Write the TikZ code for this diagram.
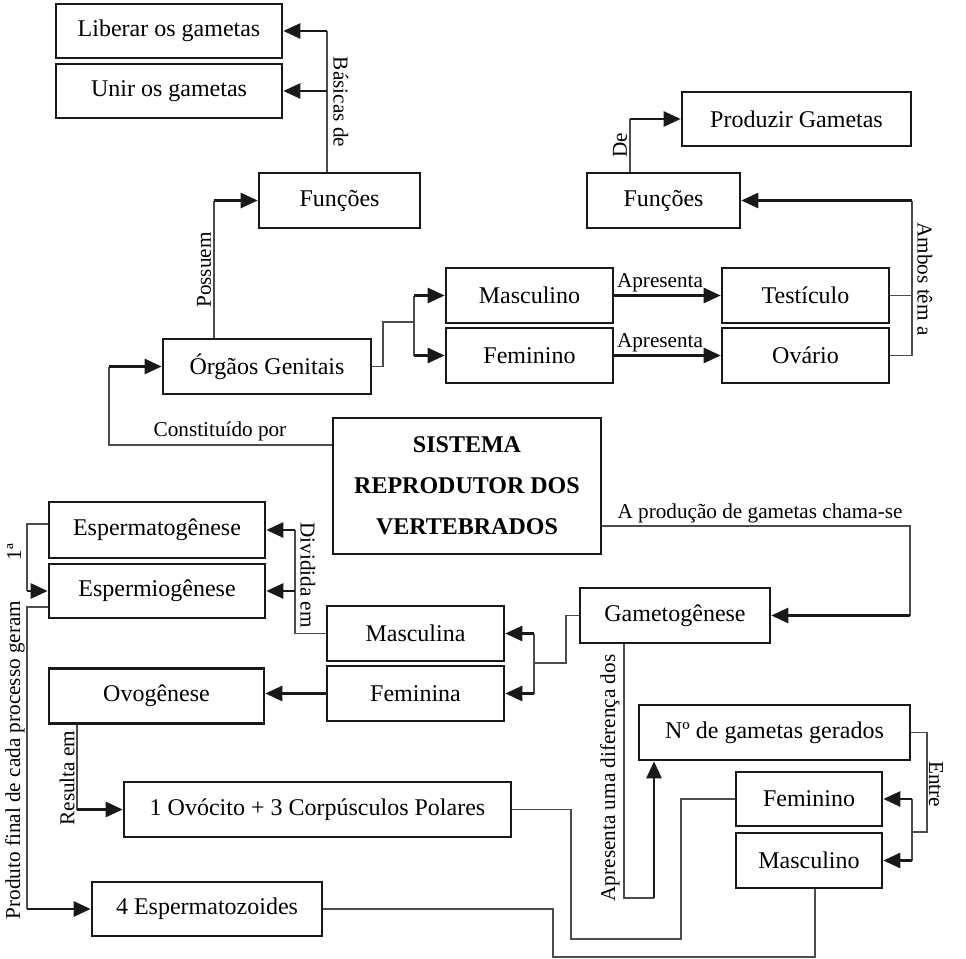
\documentclass[tikz,border=0pt]{standalone}
\usepackage{fontspec}
\setmainfont{Liberation Serif}
\usetikzlibrary{arrows.meta}

\tikzset{
  caixa/.style={draw=black!90, line width=1.3pt, inner sep=0pt, align=center, font=\fontsize{12}{14}\selectfont},
  dim/.style 2 args={minimum width=#1pt, minimum height=#2pt},
  liga/.style={draw=black!70, line width=0.6pt},
  seta/.style={draw=black!90, line width=1.3pt, -{Triangle[length=8.5pt,width=7.5pt]}},
  rotulo/.style={inner sep=0pt, font=\fontsize{10.6}{12}\selectfont},
}

\begin{document}
\begin{tikzpicture}[x=0.5pt,y=-0.5pt]
\useasboundingbox (0,0) rectangle (966,959);

\node[caixa, dim={113}{27}] (liberar) at (169,31) {Liberar os gametas};
\node[caixa, dim={113}{27}] (unir) at (169,91) {Unir os gametas};
\node[caixa, dim={80.5}{27.5}] (funcA) at (339.5,200.5) {Funções};
\node[caixa, dim={114.5}{27}] (produzir) at (796.5,119) {Produzir Gametas};
\node[caixa, dim={76.5}{27.5}] (funcB) at (663.5,200.5) {Funções};
\node[caixa, dim={83.5}{27.5}] (mascA) at (529.5,295.5) {Masculino};
\node[caixa, dim={83.5}{27.5}] (femA) at (529.5,355.5) {Feminino};
\node[caixa, dim={83.5}{27.5}] (testiculo) at (805.5,295.5) {Testículo};
\node[caixa, dim={83.5}{27.5}] (ovario) at (805.5,355.5) {Ovário};
\node[caixa, dim={104}{27.5}] (orgaos) at (267,366.5) {Órgãos Genitais};
\node[caixa, dim={134}{68}, font=\fontsize{12}{20.5}\selectfont\bfseries] (sistema) at (467,486) {SISTEMA\\REPRODUTOR DOS\\VERTEBRADOS};
\node[caixa, dim={108}{28}] (espermato) at (157,530) {Espermatogênese};
\node[caixa, dim={108}{27}] (espermio) at (157,591) {Espermiogênese};
\node[caixa, dim={88.5}{27.5}] (masculina) at (415.5,633.5) {Masculina};
\node[caixa, dim={88.5}{27.5}] (feminina) at (415.5,693.5) {Feminina};
\node[caixa, dim={95}{27.5}] (gameto) at (675,615.5) {Gametogênese};
\node[caixa, dim={107.5}{27.5}] (ovogenese) at (156.5,696) {Ovogênese};
\node[caixa, dim={135.5}{27.5}] (numero) at (774.5,732.5) {Nº de gametas gerados};
\node[caixa, dim={193.5}{27.5}] (ovocito) at (317.5,809.5) {1 Ovócito + 3 Corpúsculos Polares};
\node[caixa, dim={73}{27}] (femB) at (809,799) {Feminino};
\node[caixa, dim={73}{27.5}] (mascB) at (809,860.5) {Masculino};
\node[caixa, dim={115}{27}] (esptz) at (207,909) {4 Espermatozoides};

\coordinate (bas) at (327,31);
\draw[liga] (bas |- funcA.north) -- (bas);
\draw[seta] (bas) -- (liberar.east);
\draw[seta] (bas |- unir) -- (unir.east);
\node[rotulo, rotate=-90] (lbas) at (341,102) {Básicas de};

\coordinate (pos) at (214,200.5);
\draw[liga] (pos |- orgaos.north) -- (pos);
\draw[seta] (pos) -- (funcA.west);
\node[rotulo, rotate=90] (lpos) at (204,270) {Possuem};

\coordinate (de) at (630,119);
\draw[liga] (de |- funcB.north) -- (de);
\draw[seta] (de) -- (produzir.west);
\node[rotulo, rotate=90] (lde) at (620,145) {De};

\draw[seta] (mascA.east) -- (testiculo.west) node[rotulo, pos=0.43, above=1pt] (lap1) {Apresenta};
\draw[seta] (femA.east) -- (ovario.west) node[rotulo, pos=0.43, above=1pt] (lap2) {Apresenta};

\coordinate (amb) at (912,200.5);
\draw[liga] (ovario.east) -- (ovario.east -| amb) -- (amb);
\draw[liga] (testiculo.east) -- (testiculo.east -| amb);
\draw[seta] (amb) -- (funcB.east);
\node[rotulo, rotate=-90] (lamb) at (925,279) {Ambos têm a};

\coordinate (org1) at (383,322);
\coordinate (org2) at (414,322);
\draw[liga] (orgaos.east) -| (org1) -- (org2);
\draw[liga] (org2 |- mascA) -- (org2 |- femA);
\draw[seta] (org2 |- mascA) -- (mascA.west);
\draw[seta] (org2 |- femA) -- (femA.west);

\coordinate (con) at (109,445);
\draw[liga] (sistema.west |- con) -- (con) -- (con |- orgaos);
\draw[seta] (con |- orgaos) -- (orgaos.west);
\node[rotulo] (lcon) at (220,431) {Constituído por};

\coordinate (prd) at (910,526);
\draw[liga] (sistema.east |- prd) -- (prd) -- (prd |- gameto);
\draw[seta] (prd |- gameto) -- (gameto.east);
\node[rotulo] (lprd) at (760,513) {A produção de gametas chama-se};

\coordinate (gam1) at (566,663);
\coordinate (gam2) at (534,663);
\draw[liga] (gameto.west) -| (gam1) -- (gam2);
\draw[liga] (gam2 |- masculina) -- (gam2 |- feminina);
\draw[seta] (gam2 |- masculina) -- (masculina.east);
\draw[seta] (gam2 |- feminina) -- (feminina.east);

\coordinate (div) at (295,530);
\draw[liga] (masculina.west) -| (div);
\draw[seta] (div) -- (espermato.east);
\draw[seta] (div |- espermio) -- (espermio.east);
\node[rotulo, rotate=-90] (ldiv) at (308,575) {Dividida em};

\coordinate (pri) at (27,524);
\draw[liga] ([yshift=3pt]espermato.west) -- (pri) -- (pri |- espermio);
\draw[seta] (pri |- espermio) -- (espermio.west);
\node[rotulo, rotate=90] (lpri) at (14,552) {1ª};

\coordinate (prod) at (27,909);
\draw[liga] ([yshift=-8pt]espermio.west) -| (prod);
\draw[seta] (prod) -- (esptz.west);
\node[rotulo, rotate=90] (lprod) at (15,760) {Produto final de cada processo geram};

\draw[seta] (feminina.west) -- (feminina.west -| ovogenese.east);

\coordinate (res) at (77,809.5);
\draw[liga] (res |- ovogenese.south) -- (res);
\draw[seta] (res) -- (ovocito.west);
\node[rotulo, rotate=90] (lres) at (67,778) {Resulta em};

\coordinate (ov1) at (571,939);
\coordinate (ov2) at (681,939);
\draw[liga] (ovocito.east) -| (ov1) -- (ov2) |- (femB.west);

\coordinate (es1) at (553,957);
\draw[liga] (esptz.east) -| (es1) -| ([xshift=3pt]mascB.south);

\coordinate (dif1) at (624,898);
\coordinate (dif2) at (654,898);
\draw[liga] (dif1 |- gameto.south) -- (dif1) -- (dif2);
\draw[seta] (dif2) -- (dif2 |- numero.south);
\node[rotulo, rotate=90] (ldif) at (610,778) {Apresenta uma diferença dos};

\coordinate (ent1) at (927,832);
\coordinate (ent2) at (912,832);
\draw[liga] (numero.east) -| (ent1) -- (ent2);
\draw[liga] (ent2 |- femB) -- (ent2 |- mascB);
\draw[seta] (ent2 |- femB) -- (femB.east);
\draw[seta] (ent2 |- mascB) -- (mascB.east);
\node[rotulo, rotate=-90] (lent) at (936,784) {Entre};
\end{tikzpicture}
\end{document}
